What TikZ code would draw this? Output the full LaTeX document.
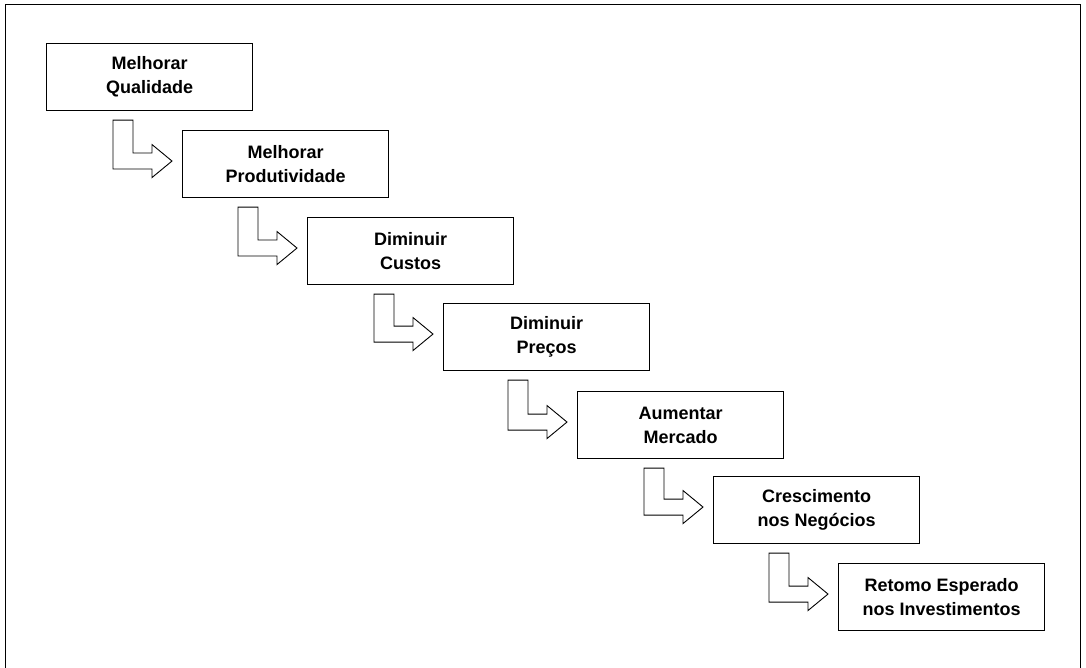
\documentclass[tikz,border=0pt]{standalone}
\usepackage{fontspec}
\setmainfont{Liberation Sans}
\usetikzlibrary{calc}
\tikzset{
  stage/.style={draw, line width=1.1pt, minimum width=206pt, minimum height=67pt,
    anchor=north west, align=center, inner sep=2pt,
    font=\fontsize{18}{24}\selectfont\bfseries},
  bent/.style={draw, line width=0.9pt, line join=miter},
  frameline/.style={line width=1.6pt}
}
% L-shaped block arrow from the box above to the left side of the next box
\newcommand{\stagearrow}[2]{%
  \path[bent] let \p1=(#2.north west), \p2=(#2.west), \p3=(#1.south) in
    (\x1-69pt,\y3-9pt) -- (\x1-49pt,\y3-9pt) -- (\x1-49pt,\y2+11pt)
    -- (\x1-30pt,\y2+11pt) -- (\x1-30pt,\y2+19.5pt) -- (\x1-10pt,\y2+3pt)
    -- (\x1-30pt,\y2-13.5pt) -- (\x1-30pt,\y2-5pt) -- (\x1-69pt,\y2-5pt) -- cycle;}
\begin{document}
\begin{tikzpicture}[x=1pt,y=-1pt]
\useasboundingbox (0,0) rectangle (1086,668);
\draw[frameline] (5.5,668) -- (5.5,4.5) -- (1080.5,4.5) -- (1080.5,668);

\node[stage] (s1) at (46,43)  {Melhorar\\Qualidade};
\node[stage] (s2) at (182,130) {Melhorar\\Produtividade};
\node[stage] (s3) at (307,217) {Diminuir\\Custos};
\node[stage] (s4) at (443,303) {Diminuir\\Preços};
\node[stage] (s5) at (577,391) {Aumentar\\Mercado};
\node[stage] (s6) at (713,476) {Crescimento\\nos Negócios};
\node[stage] (s7) at (838,563) {Retomo Esperado\\nos Investimentos};

\stagearrow{s1}{s2}
\stagearrow{s2}{s3}
\stagearrow{s3}{s4}
\stagearrow{s4}{s5}
\stagearrow{s5}{s6}
\stagearrow{s6}{s7}
\end{tikzpicture}
\end{document}
